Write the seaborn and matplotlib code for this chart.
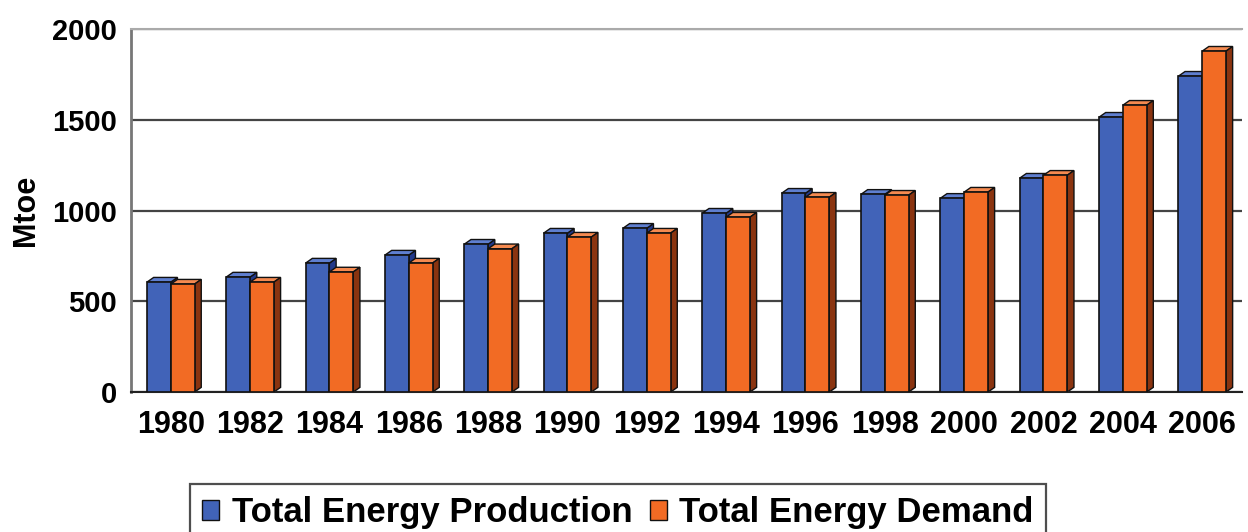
import numpy as np
import pandas as pd
import matplotlib
matplotlib.use("Agg")
import matplotlib.pyplot as plt
import seaborn as sns
from matplotlib.patches import Polygon, Patch
from matplotlib.ticker import FixedLocator

years = ["1980", "1982", "1984", "1986", "1988", "1990", "1992",
         "1994", "1996", "1998", "2000", "2002", "2004", "2006"]
production = [606, 634, 711, 755, 815, 876, 903, 986, 1096, 1090, 1068, 1179, 1515, 1741]
demand = [595, 606, 662, 711, 790, 854, 876, 964, 1074, 1085, 1102, 1195, 1581, 1879]
series = ["Total Energy Production", "Total Energy Demand"]
colors = ["#4163b8", "#f26b24"]
top_colors = ["#5f7fd0", "#f58a50"]
side_colors = ["#23398a", "#8a3410"]

df = pd.DataFrame({
    "year": years * 2,
    "value": production + demand,
    "series": [series[0]] * len(years) + [series[1]] * len(years),
})

sns.set_style("white")
plt.rcParams["font.family"] = ["Liberation Sans", "DejaVu Sans"]
plt.rcParams["font.weight"] = "bold"
plt.rcParams["text.color"] = "black"
plt.rcParams["xtick.color"] = "black"
plt.rcParams["ytick.color"] = "black"
plt.rcParams["axes.labelcolor"] = "black"

fig = plt.figure(figsize=(12.48, 5.32), dpi=100)
ax = fig.add_axes([0.105, 0.263, 0.89, 0.682])

sns.barplot(data=df, x="year", y="value", hue="series", order=years,
            hue_order=series, palette=colors, width=0.6, saturation=1,
            edgecolor="#111111", linewidth=1.2, legend=False, ax=ax, zorder=3)

# fake 3D depth on each bar
dx, dy = 0.085, 26
for i, cont in enumerate(ax.containers):
    for bar in cont:
        x0 = bar.get_x()
        x1 = x0 + bar.get_width()
        h = bar.get_height()
        top = Polygon([(x0, h), (x1, h), (x1 + dx, h + dy), (x0 + dx, h + dy)],
                      closed=True, facecolor=top_colors[i], edgecolor="#111111",
                      linewidth=1.0, zorder=2.5)
        side = Polygon([(x1, 0), (x1 + dx, dy), (x1 + dx, h + dy), (x1, h)],
                       closed=True, facecolor=side_colors[i], edgecolor="#111111",
                       linewidth=1.0, zorder=2.5 if i == 1 else 2.2)
        ax.add_patch(top)
        ax.add_patch(side)

ax.set_xlim(-0.5, len(years) - 0.5)
ax.set_ylim(0, 2000)
ax.set_yticks([0, 500, 1000, 1500, 2000])
ax.yaxis.grid(True, color="#444444", linewidth=1.6, zorder=0)
ax.set_axisbelow(True)

ax.xaxis.set_minor_locator(FixedLocator(np.arange(-0.5, len(years), 1.0)))
ax.tick_params(axis="x", which="major", length=0, pad=13, labelsize=22)
ax.tick_params(axis="x", which="minor", length=6, width=1.3, color="black", direction="out")
ax.tick_params(axis="y", length=6, width=1.3, color="black", pad=4, labelsize=21)
for lab in ax.get_xticklabels() + ax.get_yticklabels():
    lab.set_fontweight("bold")

ax.set_xlabel("")
ax.set_ylabel("Mtoe", fontsize=22, fontweight="bold", labelpad=8)

ax.spines["right"].set_visible(False)
ax.spines["top"].set_color("#aaaaaa")
ax.spines["top"].set_linewidth(1.5)
ax.spines["left"].set_color("#777777")
ax.spines["left"].set_linewidth(2.0)
ax.spines["bottom"].set_color("#222222")
ax.spines["bottom"].set_linewidth(1.5)

handles = [Patch(facecolor=c, edgecolor="#111111", linewidth=1.0) for c in colors]
leg = fig.legend(handles, series, loc="lower center", bbox_to_anchor=(0.495, -0.05),
                 ncol=2, frameon=True, fancybox=False, fontsize=25,
                 handlelength=0.5, handleheight=0.5, handletextpad=0.35,
                 columnspacing=0.5, borderpad=0.35, edgecolor="#222222")
leg.get_frame().set_linewidth(1.6)
for t in leg.get_texts():
    t.set_fontweight("bold")

fig.savefig("out.png", dpi=100)
